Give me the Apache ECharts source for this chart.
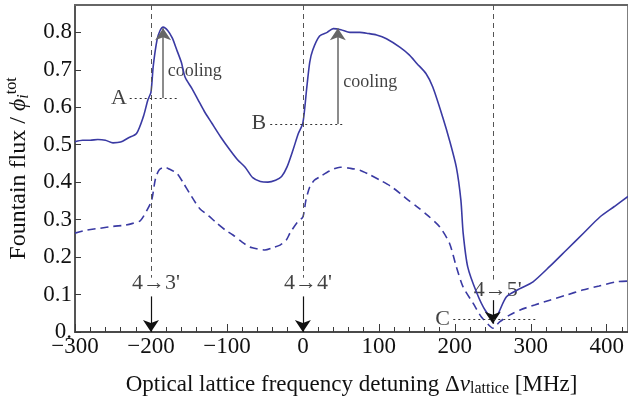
<!DOCTYPE html>
<html>
<head>
  <meta charset="utf-8">
  <title>Fountain flux vs lattice detuning</title>
  <style type="text/css">
    html, body { margin: 0; padding: 0; background: #fff; }
    #main { width: 628px; height: 403px; }
  </style>
</head>
<body>
<div id="main"></div>
<script type="text/javascript" src="https://cdn.jsdelivr.net/npm/echarts@6/dist/echarts.min.js"></script>
<script type="text/javascript">
  // solid curve (with lattice cooling), [detuning MHz, flux]
  var solidData = [
    [-300,0.508],[-290,0.512],[-280,0.512],[-270,0.514],[-260,0.512],[-250,0.505],[-240,0.507],
    [-230,0.518],[-219,0.53],[-210,0.575],[-204,0.62],[-200,0.64],[-197,0.71],[-192,0.78],
    [-188,0.805],[-184,0.814],[-178,0.805],[-172,0.785],[-166,0.753],[-160,0.72],[-155,0.68],
    [-146,0.65],[-138,0.62],[-130,0.59],[-120,0.558],[-108,0.52],[-96,0.486],[-86,0.46],
    [-76,0.44],[-66,0.412],[-56,0.402],[-46,0.40],[-36,0.405],[-28,0.415],[-21,0.44],
    [-13,0.486],[-6,0.53],[0,0.558],[5,0.65],[9,0.72],[13,0.753],[22,0.79],[32,0.80],
    [40,0.81],[50,0.807],[62,0.80],[75,0.80],[86,0.797],[97,0.793],[110,0.783],[128,0.76],
    [140,0.74],[150,0.717],[162,0.69],[171,0.654],[184,0.574],[193,0.512],[202,0.44],
    [208,0.352],[211,0.264],[217,0.174],[229,0.104],[240,0.058],[250,0.037],[256,0.045],
    [268,0.094],[285,0.115],[303,0.134],[325,0.175],[347,0.219],[370,0.265],[391,0.307],
    [410,0.335],[428,0.362]
  ];
  // dashed curve
  var dashedData = [
    [-300,0.264],[-285,0.272],[-267,0.277],[-250,0.282],[-234,0.285],[-224,0.29],[-214,0.297],
    [-205,0.326],[-199,0.352],[-194,0.41],[-189,0.433],[-182,0.44],[-176,0.435],[-166,0.424],
    [-158,0.40],[-149,0.37],[-136,0.33],[-124,0.31],[-113,0.29],[-102,0.272],[-92,0.259],
    [-80,0.24],[-70,0.227],[-60,0.222],[-50,0.219],[-40,0.225],[-30,0.232],[-22,0.245],
    [-17,0.264],[-7,0.294],[0,0.307],[4,0.352],[9,0.387],[15,0.405],[22,0.414],[35,0.43],
    [49,0.44],[62,0.437],[75,0.432],[88,0.42],[101,0.406],[115,0.39],[128,0.37],[140,0.35],
    [150,0.335],[165,0.31],[180,0.281],[193,0.237],[202,0.174],[211,0.12],[224,0.077],
    [235,0.04],[246,0.016],[250,0.01],[259,0.027],[272,0.045],[286,0.059],[305,0.072],
    [325,0.085],[346,0.098],[368,0.112],[390,0.123],[413,0.134],[428,0.136]
  ];

  // hyperfine transitions: detuning, label, dashed line bottom, arrow top, arrow tip
  var transX = [-200, 0, 250];
  var transLabels = ["4\u21923'", "4\u21924'", "4\u21925'"];
  var transLabelY = [0.13, 0.13, 0.112];
  var transDashEnd = [0.145, 0.145, 0.14];
  var transArrowTop = [0.095, 0.095, 0.085];
  var transArrowTip = [0, 0, 0.022];

  // A, B, C markers: letter position and dotted level line [x0, x1, y]
  var letters = [['A', -242, 0.624], ['B', -58, 0.557], ['C', 184, 0.035]];
  var levelLines = [[-228, -164, 0.625], [-43, 53, 0.555], [198, 309, 0.035]];
  // cooling arrows [x, y0, y1] and text anchor
  var coolArrows = [[-184, 0.625, 0.811], [46, 0.555, 0.811]];
  var coolText = [[-178, 0.697], [53, 0.667]];

  var xMin = -300, xMax = 428, yMin = 0, yMax = 0.873;
  var serif = 'Liberation Serif';
  var blue = '#3a3aa3';
  var axisColor = '#3a3a3a';

  var transLines = [];
  for (var i = 0; i < transX.length; i++) {
    transLines.push([{coord: [transX[i], yMax], symbol: 'none'},
                     {coord: [transX[i], transDashEnd[i]], symbol: 'none'}]);
  }
  var transArrows = [];
  for (var i = 0; i < transX.length; i++) {
    transArrows.push([{coord: [transX[i], transArrowTop[i]], symbol: 'none'},
                      {coord: [transX[i], transArrowTip[i]], symbol: 'arrow'}]);
  }
  var dotted = levelLines.map(function (l) {
    return [{coord: [l[0], l[2]]}, {coord: [l[1], l[2]]}];
  });
  var cool = coolArrows.map(function (a) {
    return [{coord: [a[0], a[1]], symbol: 'none'}, {coord: [a[0], a[2]], symbol: 'arrow'}];
  });

  var myChart = echarts.init(document.getElementById('main'));
  var option = {
    backgroundColor: '#fff',
    animation: false,
    // frame drawn by the grid border (left edge was not showing from the axis line)
    grid: {
      left: 75, right: 0, top: 5, bottom: 71, outerBoundsMode: 'none', containLabel: false,
      show: true, borderColor: '#555', borderWidth: 1.5, backgroundColor: 'transparent'
    },
    xAxis: [{
      // minor ticks every 20 MHz, labels every 100
      type: 'value',
      min: xMin, max: xMax, interval: 20,
      axisLine: {onZero: false, lineStyle: {color: axisColor, width: 1.5}},
      axisTick: {inside: true, length: 5, lineStyle: {color: axisColor}},
      splitLine: {show: false},
      axisLabel: {
        showMaxLabel: false, margin: 3,
        fontFamily: serif, fontSize: 23, color: '#111',
        formatter: function (v) {
          if (v % 100 !== 0) return '';
          return v < 0 ? '\u2212' + (-v) : '' + v;
        }
      },
      name: 'Optical lattice frequency detuning \u0394{nu|\u03bd}{sub|lattice} [MHz]',
      nameLocation: 'middle', nameGap: 40,
      nameTextStyle: {
        fontFamily: serif, fontSize: 23, color: '#111',
        rich: {
          nu: {fontFamily: serif, fontSize: 23, fontStyle: 'italic', color: '#111'},
          sub: {fontFamily: serif, fontSize: 16, color: '#111', padding: [9, 0, 0, 0]}
        }
      }
    }, {
      // major ticks every 100
      type: 'value', position: 'bottom',
      min: xMin, max: xMax, interval: 100,
      axisLine: {show: false, onZero: false},
      axisTick: {inside: true, length: 8, lineStyle: {color: axisColor}},
      axisLabel: {show: false}, splitLine: {show: false}
    }, {
      type: 'value', position: 'top',
      min: xMin, max: xMax,
      axisLine: {onZero: false, lineStyle: {color: '#666', width: 2}},
      axisTick: {show: false}, axisLabel: {show: false}, splitLine: {show: false}
    }],
    yAxis: {
      type: 'value', position: 'left',
      min: yMin, max: yMax, interval: 0.1,
      axisLine: {show: true, onZero: false, lineStyle: {color: '#555', width: 2}},
      axisTick: {inside: true, length: 6, lineStyle: {color: axisColor}},
      splitLine: {show: false},
      axisLabel: {
        showMaxLabel: false, margin: 3,
        fontFamily: serif, fontSize: 23, color: '#111',
        formatter: function (v) { return v === 0 ? '0.' : v.toFixed(1); }
      },
      name: 'Fountain flux / {phi|\u03d5}{sub|i}{sup|tot}',
      nameLocation: 'middle', nameRotate: 90, nameGap: 42,
      nameTextStyle: {
        fontFamily: serif, fontSize: 24, color: '#111',
        rich: {
          phi: {fontFamily: serif, fontSize: 24, fontStyle: 'italic', color: '#111'},
          sub: {fontFamily: serif, fontSize: 16, fontStyle: 'italic', color: '#111', padding: [11, 0, 0, 0]},
          sup: {fontFamily: serif, fontSize: 16, color: '#111', padding: [0, 0, 13, 0]}
        }
      }
    },
    series: [
      {
        name: 'solid', type: 'line', data: solidData,
        showSymbol: false, smooth: 0.25,
        lineStyle: {color: blue, width: 1.6}
      },
      {
        name: 'dashed', type: 'line', data: dashedData,
        showSymbol: false, smooth: 0.25,
        lineStyle: {color: blue, width: 1.6, type: [8, 5]}
      },
      {
        name: 'transitions', type: 'line', data: [],
        markLine: {
          silent: true, animation: false, symbol: 'none',
          label: {show: false},
          lineStyle: {color: '#555', width: 1, type: [5, 4]},
          emphasis: {disabled: true},
          data: transLines
        }
      },
      {
        name: 'transArrows', type: 'line', data: [],
        markLine: {
          silent: true, animation: false, symbolSize: 12,
          label: {show: false},
          lineStyle: {color: '#111', width: 1.2, type: 'solid'},
          emphasis: {disabled: true},
          data: transArrows
        }
      },
      {
        name: 'levels', type: 'line', data: [],
        markLine: {
          silent: true, animation: false, symbol: 'none',
          label: {show: false},
          lineStyle: {color: '#333', width: 1, type: [2, 3]},
          emphasis: {disabled: true},
          data: dotted
        }
      },
      {
        name: 'cooling', type: 'line', data: [],
        markLine: {
          silent: true, animation: false, symbolSize: 12,
          label: {show: false},
          lineStyle: {color: '#666', width: 1.5, type: 'solid'},
          emphasis: {disabled: true},
          data: cool
        }
      },
      {
        name: 'transLabels', type: 'scatter', symbolSize: 0, silent: true,
        data: transX.map(function (x, i) {
          return {value: [x, transLabelY[i]], name: transLabels[i]};
        }),
        label: {
          show: true, position: 'inside', formatter: '{b}',
          fontFamily: serif, fontSize: 22, color: '#111', offset: [5, 0]
        }
      },
      {
        name: 'letters', type: 'scatter', symbolSize: 0, silent: true,
        data: letters.map(function (l) {
          return {value: [l[1], l[2]], name: l[0]};
        }),
        label: {
          show: true, position: 'inside', formatter: '{b}',
          fontFamily: serif, fontSize: 22, color: '#111'
        }
      },
      {
        name: 'coolText', type: 'scatter', symbolSize: 0, silent: true,
        data: coolText.map(function (c) { return {value: c, name: 'cooling'}; }),
        label: {
          show: true, position: 'right', distance: 0, formatter: '{b}',
          fontFamily: serif, fontSize: 18, color: '#111'
        }
      }
    ]
  };
  myChart.setOption(option);
</script>
</body>
</html>
